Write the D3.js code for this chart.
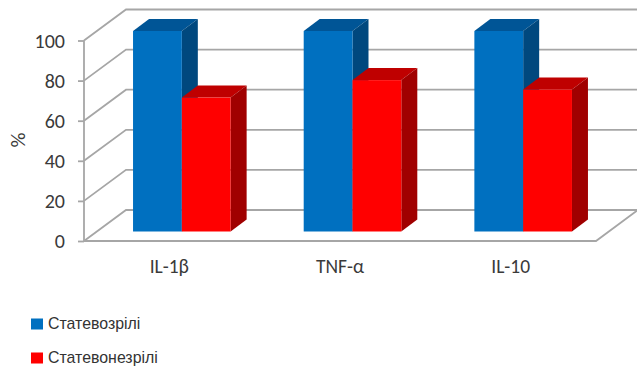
<!DOCTYPE html>
<html>
<head>
<meta charset="utf-8">
<script src="https://cdn.jsdelivr.net/npm/d3@7/dist/d3.min.js"></script>
<style>
  html, body { margin: 0; padding: 0; background: #fff; }
  svg { display: block; }
  .tick text, .cat, .ylab { font-family: Carlito, Lato, "Open Sans", sans-serif; fill: #3a3a3a; }
  .leg { font-family: "Liberation Sans", Arial, sans-serif; font-size: 15.9px; fill: #333; }
</style>
</head>
<body>
<svg id="chart" width="637" height="367"></svg>
<script>
// Cytokine levels, % of control
const categories = ["IL-1β", "TNF-α", "IL-10"];
const seriesNames = ["Статевозрілі", "Статевонезрілі"];
const matureValues = [100, 100, 100];
const immatureValues = [66.8, 75.5, 70.8];
const yTicks = [0, 20, 40, 60, 80, 100];

const frontColors = ["#0070c0", "#ff0000"];
const topColors = ["#005596", "#bf0000"];
const sideColors = ["#00487e", "#a00000"];
const gridColor = "#a6a6a6";

// Oblique projection: the wall sits behind the front plane by wallDx/wallDy,
// bars stand partway into that depth.
const wallDx = 42, wallDy = -31;
const barInsetX = 12.7, barInsetY = -9.5;
const barDepthX = 16, barDepthY = -12;

const svg = d3.select("#chart");
const x = d3.scaleBand().domain(categories).range([84, 596]);
const y = d3.scaleLinear().domain([0, 100]).range([241, 40.5]);
const inner = d3.scaleBand().domain(d3.range(seriesNames.length))
  .range([0, 97.6]);
const barH = v => y(0) - y(v);

// Wall gridlines with their diagonal run to the front plane
const grid = svg.append("g").attr("fill", "none").attr("stroke", gridColor).attr("stroke-width", 1.8);
grid.selectAll("polyline").data(yTicks.slice(1).concat(0)).join("polyline")
  .attr("points", d => [
    [84, y(d)],
    [84 + wallDx, y(d) + wallDy],
    [596 + wallDx, y(d) + wallDy]
  ].join(" "));

// Floor front and right edges
grid.append("polyline").attr("points", [
  [84, y(0)], [596, y(0)], [596 + wallDx, y(0) + wallDy]
].join(" "));

// Left axis
const axis = d3.axisLeft(y).tickValues(yTicks).tickSize(6).tickPadding(13);
const axisG = svg.append("g").attr("transform", "translate(84,0)").call(axis);
axisG.selectAll("path,line").attr("stroke", gridColor).attr("stroke-width", 1.8);
axisG.select(".domain").attr("d", `M0,${y(100)}V${y(0)}`);
axisG.selectAll("text").attr("y", 0.5).style("font-size", "20px");

// Bars: series drawn so the red front overlaps the blue side
const series = [matureValues, immatureValues];
const barGroups = svg.append("g");
series.forEach((vals, s) => {
  const w = inner.bandwidth();
  const g = barGroups.append("g").selectAll("g").data(vals).join("g")
    .attr("transform", (d, i) => {
      const bandMid = x(categories[i]) + x.bandwidth() / 2;
      return `translate(${bandMid - 49 + barInsetX + inner(s)},${barInsetY})`;
    });
  g.append("polygon").attr("fill", topColors[s])
    .attr("points", d => [
      [0, y(d)], [barDepthX, y(d) + barDepthY],
      [w + barDepthX, y(d) + barDepthY], [w, y(d)]
    ].join(" "));
  g.append("polygon").attr("fill", sideColors[s])
    .attr("points", d => [
      [w, y(d)], [w + barDepthX, y(d) + barDepthY],
      [w + barDepthX, y(0) + barDepthY], [w, y(0)]
    ].join(" "));
  g.append("rect").attr("fill", frontColors[s])
    .attr("x", 0).attr("y", d => y(d))
    .attr("width", w).attr("height", d => barH(d));
});

// Category labels
svg.append("g").selectAll("text").data(categories).join("text")
  .attr("class", "cat")
  .attr("x", d => x(d) + x.bandwidth() / 2)
  .attr("y", 272.5)
  .attr("text-anchor", "middle")
  .attr("font-size", 19.5)
  .text(d => d);

// Value axis title
svg.append("text").attr("class", "ylab")
  .attr("transform", "translate(24.5,140) rotate(-90)")
  .attr("text-anchor", "middle")
  .attr("font-size", 21)
  .text("%");

// Legend
const legendY = d3.scalePoint().domain(seriesNames).range([324, 358]);
const legend = svg.append("g").selectAll("g").data(seriesNames).join("g")
  .attr("transform", d => `translate(31,${legendY(d)})`);
legend.append("rect").attr("x", 0).attr("y", -5.5).attr("width", 12).attr("height", 11)
  .attr("fill", (d, i) => frontColors[i]);
legend.append("text").attr("class", "leg").attr("x", 17).attr("y", 5).text(d => d);
</script>
</body>
</html>
